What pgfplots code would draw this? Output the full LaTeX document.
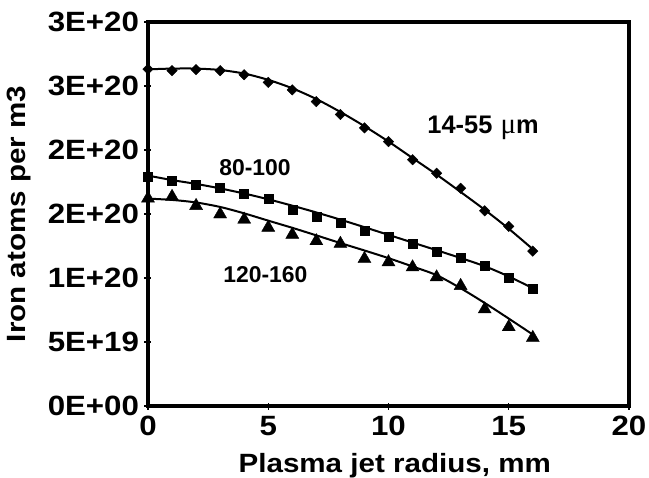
\documentclass[border=0pt]{standalone}
\usepackage{fontspec}
\setmainfont{Liberation Sans}
\newfontfamily\stretched[FakeStretch=1.12]{Liberation Sans}
\newfontfamily\serifmu{Liberation Serif}
\usepackage{pgfplots}
\pgfplotsset{compat=1.18}

\pgfplotstableread{
x y
0 2.632
1 2.620
2 2.628
3 2.620
4 2.588
5 2.528
6 2.470
7 2.378
8 2.278
9 2.173
10 2.066
11 1.924
12 1.819
13 1.701
14 1.525
15 1.404
16 1.210
}\diam

\pgfplotstableread{
x y
0 2.630
1 2.636
2 2.636
3 2.625
4 2.597
5 2.548
6 2.482
7 2.398
8 2.297
9 2.186
10 2.066
11 1.937
12 1.808
13 1.672
14 1.533
15 1.385
16 1.225
}\diamline

\pgfplotstableread{
x y
0 1.793
1 1.758
2 1.732
3 1.709
4 1.656
5 1.616
6 1.530
7 1.478
8 1.433
9 1.368
10 1.320
11 1.268
12 1.207
13 1.155
14 1.097
15 1.000
16 0.913
}\squ

\pgfplotstableread{
x y
0 1.800
1 1.765
2 1.735
3 1.700
4 1.660
5 1.615
6 1.565
7 1.512
8 1.456
9 1.397
10 1.337
11 1.277
12 1.217
13 1.156
14 1.092
15 1.012
16 0.920
}\squline

\pgfplotstableread{
x y
0 1.622
1 1.635
2 1.564
3 1.498
4 1.457
5 1.394
6 1.339
7 1.289
8 1.268
9 1.150
10 1.124
11 1.084
12 1.006
13 0.939
14 0.756
15 0.617
16 0.533
}\tri

\pgfplotstableread{
x y
0 1.620
1 1.610
2 1.590
3 1.555
4 1.505
5 1.448
6 1.392
7 1.333
8 1.273
9 1.215
10 1.155
11 1.090
12 1.022
13 0.920
14 0.805
15 0.683
16 0.558
}\triline

\begin{document}
\begin{tikzpicture}
\begin{axis}[
  at={(0,0)}, anchor=south west,
  scale only axis, width=481bp, height=384bp,
  xmin=0, xmax=20, ymin=0, ymax=3,
  axis lines=box,
  xtick={0,5,10,15,20},
  ytick={0,0.5,1,1.5,2,2.5,3},
  yticklabels={0E+00,5E+19,1E+20,2E+20,2E+20,3E+20,3E+20},
  xtick pos=bottom, ytick pos=left,
  tick align=center,
  major tick length=7bp,
  tick style={line width=1.2bp, black},
  axis line style={line width=4bp},
  /pgf/number format/assume math mode=true,
  ticklabel style={font=\stretched\bfseries\fontsize{28}{28}\selectfont},
  xticklabel style={anchor=base, yshift=-26bp},
  yticklabel style={anchor=east, xshift=-2bp},
  xlabel={Plasma jet radius, mm},
  ylabel={Iron atoms per m3},
  label style={font=\stretched\bfseries\fontsize{26.5}{26.5}\selectfont},
  xlabel style={at={(axis description cs:0.513,0)}, anchor=base, yshift=-66bp},
  ylabel style={at={(axis description cs:-0.2682,0.5)}, anchor=center},
  clip=false,
]
\addplot[black, line width=2bp, smooth] table[x=x,y=y] {\diamline};
\addplot[black, line width=2bp, smooth] table[x=x,y=y] {\squline};
\addplot[black, line width=2bp, smooth] table[x=x,y=y] {\triline};
\addplot[only marks, mark=square*, mark size=3.7bp, mark options={rotate=45, fill=black, draw=black}] table[x=x,y=y] {\diam};
\addplot[only marks, mark=square*, mark size=4.5bp, mark options={fill=black, draw=black}] table[x=x,y=y] {\squ};
\addplot[only marks, mark=triangle*, mark size=7.5bp, mark options={fill=black, draw=black}] table[x=x,y=y] {\tri};
\node[font=\bfseries\fontsize{25.5}{25.5}\selectfont] at (axis cs:13.93,2.17) {14-55\hspace{0.32em}{\serifmu\mdseries\fontsize{29}{29}\selectfont μ}m};
\node[font=\bfseries\fontsize{23}{23}\selectfont] at (axis cs:4.45,1.86) {80-100};
\node[font=\bfseries\fontsize{23}{23}\selectfont] at (axis cs:4.88,1.03) {120-160};
\end{axis}
\draw[line width=4bp, line join=miter, black] (0,0) rectangle (481bp,384bp);
\pgfresetboundingbox
\useasboundingbox (-148bp,-72bp) rectangle (501bp,406bp);
\end{tikzpicture}
\end{document}
